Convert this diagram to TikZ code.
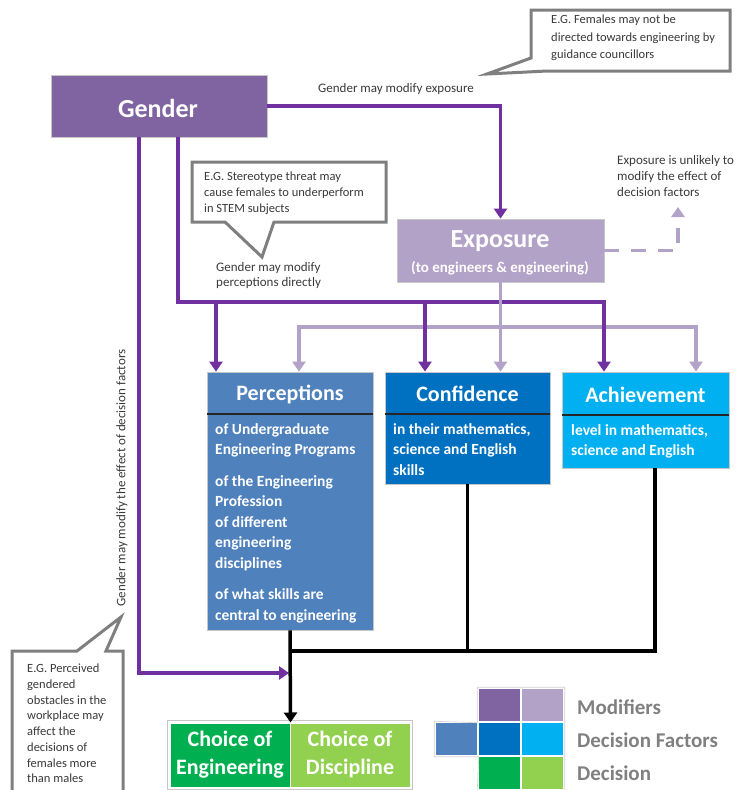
\documentclass[tikz,border=0pt]{standalone}
\usepackage{fontspec}
\setmainfont{Carlito}
\usetikzlibrary{arrows.meta,calc}
\definecolor{gpurple}{HTML}{8064A2}
\definecolor{lpurple}{HTML}{B3A2C7}
\definecolor{percblue}{HTML}{4F81BD}
\definecolor{confblue}{HTML}{0070C0}
\definecolor{achblue}{HTML}{00B0F0}
\definecolor{dgreen}{HTML}{00B050}
\definecolor{lgreen}{HTML}{92D050}
\definecolor{linepurple}{HTML}{7030A0}
\definecolor{calgray}{HTML}{7F7F7F}
\definecolor{txt}{HTML}{3A3A3A}
\definecolor{leggray}{HTML}{808080}
\begin{document}
\begin{tikzpicture}[x=1pt,y=-1pt,
  box/.style={draw=black!22, line width=0.8pt, inner sep=0pt, text=white},
  hdr/.style={font=\bfseries\fontsize{22}{26}\selectfont, text=white, inner sep=0pt},
  bodytxt/.style={font=\bfseries\fontsize{15.5}{20.5}\selectfont, text=white, align=left, inner sep=0pt, anchor=north west},
  lbl/.style={font=\fontsize{13}{16}\selectfont, text=txt, inner sep=0pt, align=left},
  ctxt/.style={font=\fontsize{12.5}{15.7}\selectfont, text=txt, inner sep=0pt, align=left, anchor=north west},
  bubble/.style={draw=calgray, line width=3pt, fill=white, line join=miter},
  divider/.style={draw=black!85, line width=1.8pt},
  pline/.style={draw=linepurple, line width=3.5pt},
  lline/.style={draw=lpurple, line width=3.5pt},
  bline/.style={draw=black, line width=3.5pt},
  arrowhd/.style={-{Triangle[width=13pt,length=10pt]}},
  sq/.style={draw=white, line width=1.5pt, minimum width=43pt, minimum height=34pt, inner sep=0pt},
  leg/.style={font=\bfseries\fontsize{21}{24}\selectfont, text=leggray, inner sep=0pt, anchor=west}
]
\useasboundingbox (0,0) rectangle (737,790);

% ---------- callouts ----------
\path[bubble] (531,10) -- (730,10) -- (730,71) -- (547,71) -- (487,74) -- (531,58) -- cycle;
\node[ctxt, font=\fontsize{12.5}{17.5}\selectfont] (c1txt) at (551,15) {E.G. Females may not be\\directed towards engineering by\\guidance councillors};

\path[bubble] (192,162) -- (386,162) -- (386,222) -- (274,222) -- (262,257) -- (225,222) -- (192,222) -- cycle;
\node[ctxt] (c2txt) at (204,172) {E.G. Stereotype threat may\\cause females to underperform\\in STEM subjects};

\path[bubble] (12,792) -- (12,651) -- (77,651) -- (121,617) -- (106,651) -- (123,651) -- (123,792);
\node[ctxt] (c3txt) at (27,664) {E.G. Perceived\\gendered\\obstacles in the\\workplace may\\affect the\\decisions of\\females more\\than males};

% ---------- main boxes ----------
\node[box, fill=gpurple, minimum width=216pt, minimum height=62pt] (gender) at (159,106) {};
\node[font=\bfseries\fontsize{26}{30}\selectfont, text=white, inner sep=0pt] (gendert) at (158,108) {Gender};

\node[box, fill=lpurple, minimum width=207pt, minimum height=63pt] (expo) at (500.5,250.5) {};
\node[font=\bfseries\fontsize{26}{30}\selectfont, text=white, inner sep=0pt] (expot) at (500,241) {Exposure};
\node[font=\bfseries\fontsize{15}{18}\selectfont, text=white, inner sep=0pt] (expos) at (500,268) {(to engineers \& engineering)};

\node[box, fill=percblue, minimum width=166pt, minimum height=258pt] (perc) at (290,501) {};
\node[hdr] (perch) at (290,394) {Perceptions};
\draw[divider] (perc.west |- 0,414) -- (perc.east |- 0,414);
\node[bodytxt] (percb) at (215,423) {of Undergraduate\\Engineering Programs\\[11pt]of the Engineering\\Profession\\of different\\engineering\\disciplines\\[11pt]of what skills are\\central to engineering};

\node[box, fill=confblue, minimum width=165pt, minimum height=112pt] (conf) at (467.5,428) {};
\node[hdr] (confh) at (467.5,394) {Confidence};
\draw[divider] (conf.west |- 0,414) -- (conf.east |- 0,414);
\node[bodytxt] (confb) at (393,423) {in their mathematics,\\science and English\\skills};

\node[box, fill=achblue, minimum width=167pt, minimum height=96pt] (ach) at (645.5,420) {};
\node[hdr] (achh) at (645.5,395) {Achievement};
\draw[divider] (ach.west |- 0,415) -- (ach.east |- 0,415);
\node[bodytxt] (achb) at (571,424) {level in mathematics,\\science and English};

\node[box, draw=white, line width=1pt, fill=dgreen, minimum width=120pt, minimum height=64pt, align=center, font=\bfseries\fontsize{22}{28}\selectfont] (choiceE) at (230,755) {Choice of\\Engineering};
\node[box, draw=white, line width=1pt, fill=lgreen, minimum width=120pt, minimum height=64pt, align=center, font=\bfseries\fontsize{22}{28}\selectfont] (choiceD) at (350,755) {Choice of\\Discipline};
\draw[black!22, line width=0.8pt] ($(choiceE.north west)+(-2,-2)$) rectangle ($(choiceD.south east)+(2,2)$);

% ---------- labels ----------
\node[lbl, anchor=west] (lexp) at (318,89) {Gender may modify exposure};
\node[lbl, anchor=north west, font=\fontsize{13}{15.5}\selectfont] (lperc) at (216,262) {Gender may modify\\perceptions directly};
\node[lbl, anchor=north west] (lunl) at (617,155) {Exposure is unlikely to\\modify the effect of\\decision factors};
\node[lbl, rotate=90] (lrot) at (122,478) {Gender may modify the effect of decision factors};

% ---------- connectors ----------
\coordinate (gA) at (139,673);
\coordinate (gB) at (178,302);
\coordinate (pPerc) at (216,302);
\coordinate (pConf) at (425,302);
\coordinate (pAch) at (604,302);
\coordinate (lPerc) at (299,327);
\coordinate (lAch) at (696,327);
\coordinate (dashEnd) at (678,207);
\coordinate (busL) at (290,651);
\coordinate (busR) at (655,651);

% light purple bus (under purple)
\draw[lline, {Triangle[width=13pt,length=10pt]}-{Triangle[width=13pt,length=10pt]}] (lPerc |- perc.north) -- (lPerc) -- (lAch) -- (lAch |- ach.north);

% purple
\draw[pline, arrowhd] (gender.east) -| (expo.north);
\draw[pline, arrowhd] (gender.south -| gB) -- (gB) -- (pAch) -- (pAch |- ach.north);
\draw[pline, arrowhd] (pPerc) -- (pPerc |- perc.north);
\draw[pline, arrowhd] (pConf) -- (pConf |- conf.north);
\draw[pline, arrowhd] (gender.south -| gA) -- (gA) -- ($(gA -| perc.south)+(-1,0)$);

% light purple from exposure
\draw[lline, arrowhd] (expo.south) -- (expo.south |- conf.north);
\draw[lline, dash pattern=on 15pt off 12pt, arrowhd] (expo.east) -| (dashEnd);

% black
\draw[bline, line join=miter] (busL) -- (busR) -- (busR |- ach.south);
\draw[bline] (conf.south) -- (conf.south |- busL);
\draw[bline, arrowhd] (perc.south) -- (choiceE.north east);

% ---------- legend ----------
\node[sq, fill=gpurple] (l11) at (499.5,705) {};
\node[sq, fill=lpurple] (l12) at (542.5,705) {};
\node[sq, fill=percblue] (l20) at (456.5,739) {};
\node[sq, fill=confblue] (l21) at (499.5,739) {};
\node[sq, fill=achblue] (l22) at (542.5,739) {};
\node[sq, fill=dgreen] (l31) at (499.5,773) {};
\node[sq, fill=lgreen] (l32) at (542.5,773) {};
\draw[black!18, line width=0.6pt] (l11.north west) -- (l12.north east) -- (l32.south east) -- (l31.south west) -- (l20.south east) -- (l20.south west) -- (l20.north west) -- (l11.south west) -- cycle;
\node[leg] (legm) at (577,707) {Modifiers};
\node[leg] (legf) at (577,740) {Decision Factors};
\node[leg] (legd) at (577,773) {Decision};
\end{tikzpicture}
\end{document}
